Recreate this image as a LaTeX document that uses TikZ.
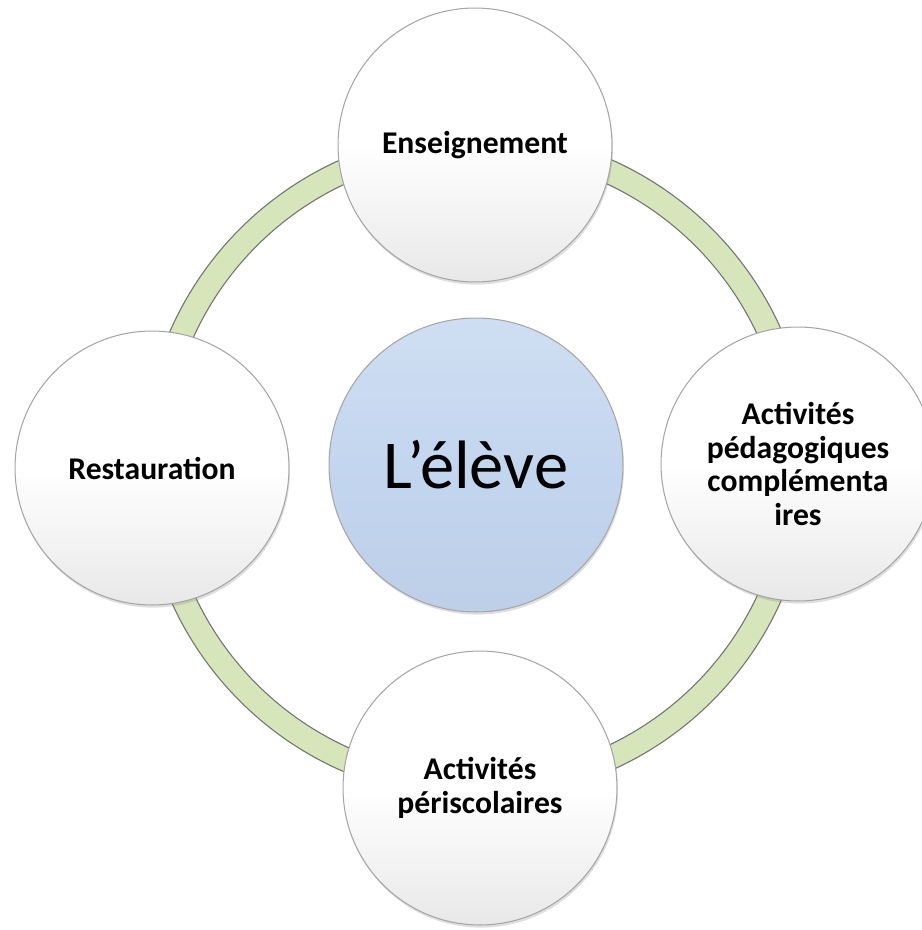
\documentclass[tikz,border=0pt]{standalone}
\usepackage{fontspec}
\setmainfont{Carlito}
\usetikzlibrary{shadows}
\definecolor{ringgreen}{RGB}{214,229,186}
\definecolor{pupilblue}{RGB}{195,214,239}

\begin{document}
\begin{tikzpicture}[x=0.02cm,y=-0.02cm]
  \tikzstyle{bubble} = [circle, draw=black!35, line width=0.6pt, minimum size=5.48cm, inner sep=0pt, top color=white, bottom color=black!9, middle color=white, align=center, font=\fontsize{18}{19}\selectfont\bfseries, drop shadow={opacity=0.25, shadow xshift=0.6pt, shadow yshift=-1.5pt}]
  \tikzstyle{ring} = [draw=black!55, line width=0.7pt, double=ringgreen, double distance=0.45cm]

  \useasboundingbox (0,0) rectangle (921,930);

  % Centre
  \node[bubble, minimum size=5.88cm, top color=pupilblue!80!white, bottom color=pupilblue!97!black, middle color=pupilblue, font=\fontsize{39}{44}\selectfont] (eleve) at (476,465) {L’élève};

  % Ring
  \draw[ring] (eleve.center) circle [radius=6.44cm];

  % Outer circles
  \node[bubble] (enseign) at (475,145) {Enseignement};
  \node[bubble] (activ) at (798,464) {Activités\\pédagogiques\\complémenta\\ires};
  \node[bubble] (peri) at (480,788) {Activités\\périscolaires};
  \node[bubble] (resto) at (152,468) {Restauration};
\end{tikzpicture}
\end{document}
